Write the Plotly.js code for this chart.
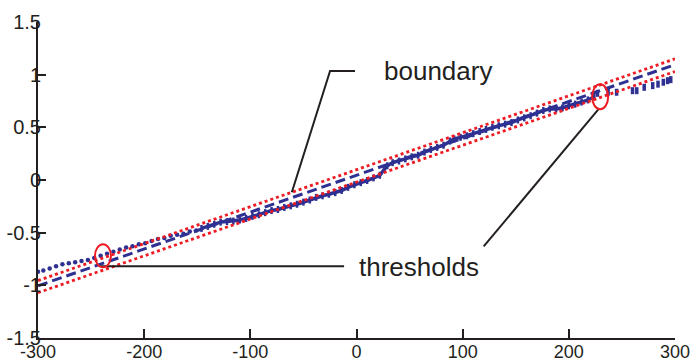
<!DOCTYPE html>
<html>
<head>
<meta charset="utf-8">
<script src="https://cdn.plot.ly/plotly-3.0.1.min.js"></script>
<style>html,body{margin:0;padding:0;background:#fff;}#chart{width:693px;height:362px;}</style>
</head>
<body>
<div id="chart"></div>
<script>
// measured samples (sparse left part)
const leftX = [-300,-295,-289,-283,-277,-271,-265,-259,-253,-247,-241,-235,-229,-223,-217,-211,-205,-199,-193,-187,-181,-175,-169,-163,-157,-151];
const leftY = [-0.87,-0.86,-0.84,-0.82,-0.80,-0.79,-0.78,-0.77,-0.76,-0.74,-0.72,-0.70,-0.68,-0.66,-0.64,-0.63,-0.61,-0.60,-0.58,-0.56,-0.55,-0.53,-0.52,-0.51,-0.49,-0.48];
// dense middle part
const midX = [-146,-140,-134,-128,-122,-116,-110,-104,-98,-92,-86,-80,-74,-68,-62,-56,-50,-44,-38,-32,-26,-20,-14,-8,-2,4,10,16,22,26,29,34,40,46,52,58,64,70,76,82,88,92,98,104,110,116,122,128,134,140,146,152,158,164,170,176,182,188,194,200,206,212,218,224];
const midY = [-0.46,-0.44,-0.42,-0.40,-0.395,-0.39,-0.38,-0.365,-0.345,-0.33,-0.31,-0.29,-0.28,-0.26,-0.245,-0.23,-0.21,-0.19,-0.165,-0.15,-0.135,-0.12,-0.10,-0.07,-0.045,-0.025,-0.005,0.02,0.045,0.10,0.135,0.165,0.18,0.20,0.22,0.235,0.265,0.29,0.31,0.33,0.37,0.39,0.405,0.42,0.44,0.46,0.48,0.50,0.515,0.53,0.545,0.57,0.59,0.61,0.635,0.66,0.675,0.675,0.685,0.705,0.72,0.74,0.76,0.79];
// sparse right part
const rightX = [227,237,245,260,264,271,279,284,289,293,296];
const rightY = [0.823,0.833,0.833,0.848,0.848,0.88,0.896,0.91,0.928,0.943,0.953];
// boundary and thresholds
const lineX = [-300, 300];
const boundaryY = [-1.005, 1.095];
const upperY = [-0.955, 1.15];
const lowerY = [-1.07, 1.03];
// axis ticks
const xTicks = [-300,-200,-100,0,100,200,300];
const xTickText = ['-300','-200','-100','0','100','200','300'];
const yTicks = [-1.5,-1,-0.5,0,0.5,1,1.5];
const yTickText = ['-1.5','-1','-0.5','0','0.5','1','1.5'];

const BLUE = '#2E3192', RED = '#ED1C24', INK = '#231F20';
const FONT = 'Liberation Sans, Arial, Helvetica, sans-serif';

const traces = [
  {x:leftX, y:leftY, mode:'markers', type:'scatter', marker:{color:BLUE, size:4.5}, hoverinfo:'skip'},
  {x:midX, y:midY, mode:'lines+markers', type:'scatter', line:{color:BLUE, width:3.5}, marker:{color:BLUE, size:5, symbol:'line-ns', line:{color:BLUE, width:2.5}}, hoverinfo:'skip'},
  {x:rightX, y:rightY, mode:'markers', type:'scatter', marker:{color:BLUE, size:5, symbol:'line-ns', line:{color:BLUE, width:3.5}}, hoverinfo:'skip'},
  {x:lineX, y:boundaryY, mode:'lines', type:'scatter', line:{color:BLUE, width:3, dash:'10px,5px'}, hoverinfo:'skip'},
  {x:lineX, y:upperY, mode:'lines', type:'scatter', line:{color:RED, width:2.8, dash:'3px,3px'}, hoverinfo:'skip'},
  {x:lineX, y:lowerY, mode:'lines', type:'scatter', line:{color:RED, width:2.8, dash:'3px,3px'}, hoverinfo:'skip'}
];

const layout = {
  width:693, height:362,
  margin:{l:37.5, r:18, t:21.7, b:24.3},
  paper_bgcolor:'#fff', plot_bgcolor:'#fff',
  showlegend:false,
  font:{family:FONT, color:INK},
  xaxis:{range:[-300,300], tickmode:'array', tickvals:xTicks, ticktext:xTickText,
    showline:true, linecolor:INK, linewidth:2, ticks:'inside', ticklen:9, tickwidth:2, tickcolor:INK,
    showgrid:false, zeroline:false, tickfont:{size:18, family:FONT, color:INK}, ticklabelstandoff:-4, fixedrange:true},
  yaxis:{range:[-1.5,1.5], tickmode:'array', tickvals:yTicks, ticktext:yTickText,
    showline:true, linecolor:INK, linewidth:2, ticks:'inside', ticklen:8, tickwidth:2, tickcolor:INK,
    showgrid:false, zeroline:false, tickfont:{size:20, family:FONT, color:INK}, ticklabelstandoff:-9, fixedrange:true},
  shapes:[
    {type:'path', xref:'x', yref:'y', path:'M -1.4,1.035 L -24.9,1.035 L -60.9,-0.117', line:{color:INK, width:2}},
    {type:'line', xref:'x', yref:'y', x0:-241.2, y0:-0.82, x1:-11.7, y1:-0.82, line:{color:INK, width:2}},
    {type:'line', xref:'x', yref:'y', x0:119.8, y0:-0.63, x1:227.8, y1:0.67, line:{color:INK, width:2}},
    {type:'circle', xref:'x', yref:'y', xsizemode:'pixel', ysizemode:'pixel', xanchor:-238.8, yanchor:-0.72, x0:-8, x1:8, y0:-11.5, y1:11.5, line:{color:RED, width:2}},
    {type:'circle', xref:'x', yref:'y', xsizemode:'pixel', ysizemode:'pixel', xanchor:229.5, yanchor:0.79, x0:-8, x1:8, y0:-12.5, y1:12.5, line:{color:RED, width:2}}
  ],
  annotations:[
    {text:'boundary', xref:'x', yref:'y', x:23.7, y:1.035, xanchor:'left', yanchor:'middle', showarrow:false, font:{size:26, family:FONT, color:INK}},
    {text:'thresholds', xref:'x', yref:'y', x:0.2, y:-0.826, xanchor:'left', yanchor:'middle', showarrow:false, font:{size:26, family:FONT, color:INK}}
  ]
};

Plotly.newPlot('chart', traces, layout, {staticPlot:true, displayModeBar:false});
</script>
</body>
</html>
